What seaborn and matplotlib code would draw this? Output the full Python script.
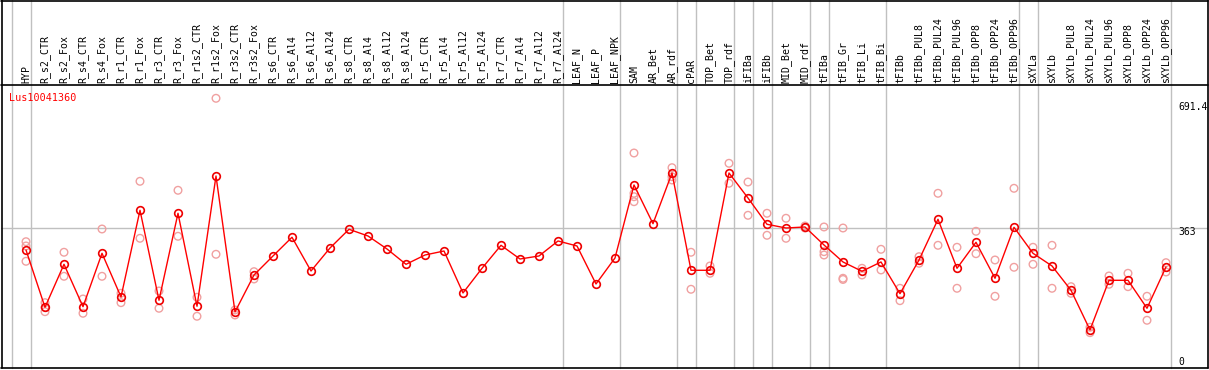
import numpy as np
import pandas as pd
import seaborn as sns
import matplotlib
matplotlib.use("Agg")
import matplotlib.pyplot as plt
from matplotlib.lines import Line2D
import matplotlib.transforms as mtrans

categories = ["HYP", "R_s2_CTR", "R_s2_Fox", "R_s4_CTR", "R_s4_Fox", "R_r1_CTR", "R_r1_Fox",
              "R_r3_CTR", "R_r3_Fox", "R_r1s2_CTR", "R_r1s2_Fox", "R_r3s2_CTR", "R_r3s2_Fox",
              "R_s6_CTR", "R_s6_Al4", "R_s6_Al12", "R_s6_Al24", "R_s8_CTR", "R_s8_Al4", "R_s8_Al12",
              "R_s8_Al24", "R_r5_CTR", "R_r5_Al4", "R_r5_Al12", "R_r5_Al24", "R_r7_CTR", "R_r7_Al4",
              "R_r7_Al12", "R_r7_Al24", "LEAF_N", "LEAF_P", "LEAF_NPK", "SAM", "AR_Bet", "AR_rdf",
              "cPAR", "TOP_Bet", "TOP_rdf", "iFIBa", "iFIBb", "MID_Bet", "MID_rdf", "tFIBa",
              "tFIB_Gr", "tFIB_Li", "tFIB_Bi", "tFIBb", "tFIBb_PUL8", "tFIBb_PUL24", "tFIBb_PUL96",
              "tFIBb_OPP8", "tFIBb_OPP24", "tFIBb_OPP96", "sXYLa", "sXYLb", "sXYLb_PUL8",
              "sXYLb_PUL24", "sXYLb_PUL96", "sXYLb_OPP8", "sXYLb_OPP24", "sXYLb_OPP96"]

mean_values = [308.2, 163.4, 272.0, 164.9, 299.8, 189.5, 408.5, 181.1, 400.9, 166.0, 495.1,
               151.6, 245.0, 293.0, 340.3, 255.1, 313.2, 360.5, 343.5, 310.7, 272.0, 295.5,
               305.6, 199.6, 261.9, 320.0, 285.4, 293.0, 330.9, 318.3, 222.3, 288.0, 472.4,
               374.6, 502.7, 256.9, 256.9, 502.7, 439.5, 373.1, 363.7, 366.3, 320.8, 277.9,
               254.4, 277.9, 197.8, 282.9, 385.7, 261.9, 327.6, 236.7, 365.5, 299.8, 267.8,
               206.4, 106.1, 231.6, 231.6, 160.9, 265.2]

replicates = [
    [329.1, 318.3, 279.6], [175.1, 162.9, 152.3], [302.4, 241.7], [184.4, 148.3],
    [361.2, 241.7], [198.8, 175.1], [481.7, 337.7], [204.6, 160.9], [459.0, 342.8],
    [188.7, 140.7], [691.4, 297.3], [156.6, 144.0], [253.4, 234.9],
    [], [], [], [], [], [], [], [], [], [], [], [], [], [], [], [], [], [], [],
    [553.2, 451.4, 442.8, 430.2], [], [516.1, 493.3, 485.0], [302.4, 208.9],
    [267.8, 249.3], [527.2, 476.7], [479.9, 395.8], [400.9, 345.3], [388.3, 337.7],
    [368.8, 363.7], [366.3, 303.9, 295.5], [363.7, 236.7, 233.7], [261.9, 245.0],
    [309.9, 257.7], [211.4, 180.1], [291.2, 274.6], [451.4, 320.0], [315.0, 211.4],
    [355.4, 298.8], [282.9, 191.2], [464.0, 264.5], [315.0, 272.0], [320.0, 211.4],
    [215.5, 198.8], [112.9, 99.3], [242.5, 221.5], [249.3, 215.5], [191.2, 130.6],
    [276.1, 252.6],
]

group_breaks = [-1, 0, 28, 31, 34, 35, 37, 38, 39, 41, 42, 45, 52, 53, 60]
y_ticks = [691.4, 363, 0]
gene = "Lus10041360"

W, H = 1209, 370
fig = plt.figure(figsize=(W / 100, H / 100), dpi=100)
sns.set_style("white")
plt.rcParams['font.family'] = ['DejaVu Sans Mono', 'DejaVu Sans']

ax_left, ax_right = 1, 1208
ax_top, ax_bot = 85, 368
ax = fig.add_axes([ax_left / W, (H - ax_bot) / H, (ax_right - ax_left) / W, (ax_bot - ax_top) / H])

x0_px, dx_px = 26, 19
ax.set_xlim((ax_left - x0_px) / dx_px, (ax_right - x0_px) / dx_px)
ax.set_ylim(10, 725)

mean_df = pd.DataFrame({"x": np.arange(len(categories)), "value": mean_values, "cat": categories})
rep_rows = [(i, v) for i, reps in enumerate(replicates) for v in reps]
rep_df = pd.DataFrame(rep_rows, columns=["x", "value"])

ax.axhline(363, color="#c0c0c0", lw=1, zorder=0)
header_frac = ax_top / (ax_bot - ax_top)
for b in group_breaks:
    ax.axvline(b + 0.24, ymin=0, ymax=1 + header_frac, color="#c0c0c0", lw=1, zorder=0, clip_on=False)

sns.scatterplot(data=rep_df, x="x", y="value", ax=ax, marker="o", s=30,
                facecolor="none", edgecolor="#f0a0a0", linewidth=1.0, zorder=2, legend=False)
sns.lineplot(data=mean_df, x="x", y="value", ax=ax, color="#ff0000", lw=1.0, sort=False,
             marker="o", markersize=5.5, markerfacecolor="none", markeredgecolor="#ee0000",
             markeredgewidth=1.2, zorder=3, legend=False)

ax.set_xlabel("")
ax.set_ylabel("")
ax.set_xticks([])
ax.set_yticks([])
for s in ax.spines.values():
    s.set_visible(False)

trans = mtrans.blended_transform_factory(ax.transData, fig.transFigure)
for i, c in enumerate(categories):
    ax.text(i, (H - 83) / H, c, transform=trans, rotation=90, ha="center", va="bottom",
            fontsize=7.1, color="black", clip_on=False)

fig.text(9 / W, (H - 98) / H, gene, color="#ff0000", fontsize=7.3, ha="left", va="center")

ylab_pos = {691.4: 106.7, 363: 232.3, 0: 362}
for v in y_ticks:
    fig.text(1178 / W, (H - ylab_pos[v]) / H, "%g" % v, color="black", fontsize=7.0,
             ha="left", va="center")

def hline(y, x1=ax_left, x2=ax_right):
    fig.add_artist(Line2D([x1 / W, x2 / W], [(H - y) / H, (H - y) / H], color="black", lw=1.2))

def vline(x, y1=0, y2=ax_bot):
    fig.add_artist(Line2D([x / W, x / W], [(H - y1) / H, (H - y2) / H], color="black", lw=1.2))

hline(0.5)
hline(ax_top)
hline(ax_bot)
vline(ax_left + 0.5)
vline(ax_right)

fig.savefig("out.png", dpi=100)
